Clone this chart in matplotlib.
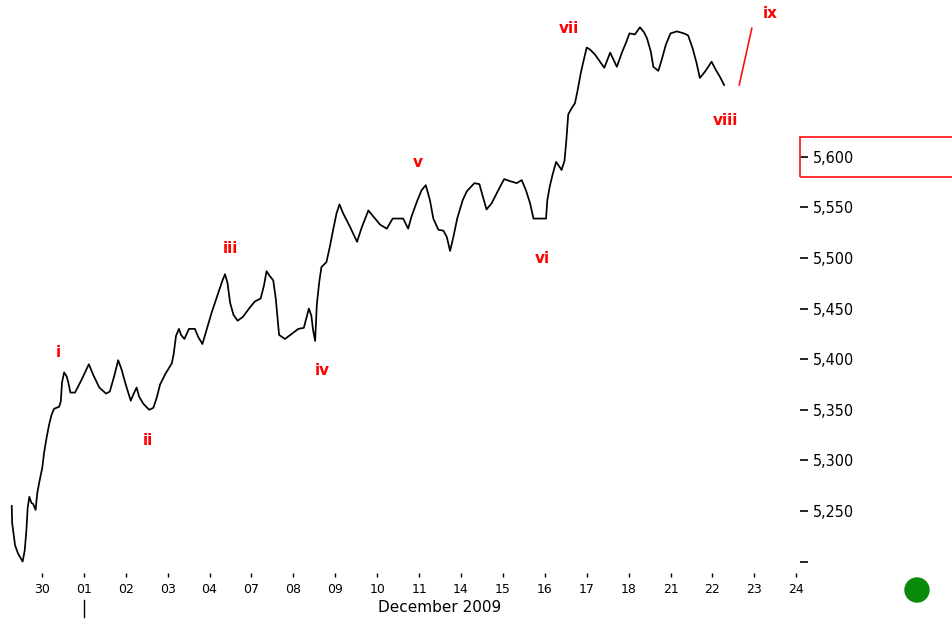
import matplotlib.pyplot as plt
import matplotlib.transforms as mtransforms
from matplotlib.patches import Rectangle, Ellipse

# trading days (index 0 = 30 Nov) and prices
day_labels = ["30", "01", "02", "03", "04", "07", "08", "09", "10", "11",
              "14", "15", "16", "17", "18", "21", "22", "23", "24"]

t = [-0.72, -0.71, -0.64, -0.57, -0.46, -0.41, -0.37, -0.34, -0.30, -0.25,
     -0.21, -0.15, -0.11, -0.05, 0.01, 0.05, 0.11, 0.17, 0.23, 0.29,
     0.41, 0.45, 0.48, 0.53, 0.59, 0.63, 0.68, 0.79, 0.95, 1.12,
     1.22, 1.37, 1.53, 1.62, 1.73, 1.82, 1.90, 2.00, 2.12, 2.18,
     2.26, 2.32, 2.42, 2.56, 2.66, 2.74, 2.82, 2.94, 3.10, 3.14,
     3.20, 3.27, 3.32, 3.40, 3.51, 3.65, 3.73, 3.83, 3.93, 4.05,
     4.18, 4.31, 4.37, 4.43, 4.49, 4.57, 4.67, 4.80, 4.96, 5.08,
     5.22, 5.30, 5.36, 5.44, 5.52, 5.58, 5.66, 5.80, 5.96, 6.12,
     6.25, 6.32, 6.37, 6.43, 6.47, 6.52, 6.56, 6.62, 6.67, 6.79,
     6.87, 6.95, 7.03, 7.10, 7.19, 7.35, 7.52, 7.63, 7.79, 7.91,
     8.07, 8.23, 8.37, 8.62, 8.74, 8.82, 8.96, 9.06, 9.16, 9.26,
     9.34, 9.46, 9.58, 9.66, 9.74, 9.82, 9.91, 10.04, 10.14, 10.32,
     10.44, 10.52, 10.61, 10.73, 10.89, 11.03, 11.17, 11.33, 11.45, 11.55,
     11.65, 11.73, 12.03, 12.06, 12.12, 12.19, 12.27, 12.37, 12.40, 12.47,
     12.51, 12.56, 12.64, 12.72, 12.78, 12.86, 12.92, 13.00, 13.08, 13.20,
     13.32, 13.42, 13.56, 13.72, 13.84, 13.95, 14.02, 14.15, 14.27, 14.37,
     14.44, 14.53, 14.59, 14.71, 14.79, 14.89, 15.00, 15.15, 15.32, 15.42,
     15.53, 15.62, 15.70, 15.82, 15.98, 16.08, 16.18, 16.28]

price = [5255, 5238, 5216, 5208, 5200, 5211, 5231, 5253, 5264, 5258,
         5257, 5251, 5268, 5281, 5293, 5307, 5322, 5335, 5345, 5351,
         5353, 5358, 5377, 5387, 5383, 5377, 5367, 5367, 5380, 5395,
         5385, 5372, 5366, 5368, 5384, 5399, 5390, 5375, 5359, 5365,
         5372, 5363, 5356, 5350, 5352, 5362, 5375, 5385, 5396, 5404,
         5423, 5430, 5424, 5420, 5430, 5430, 5422, 5415, 5429, 5446,
         5462, 5478, 5484, 5475, 5456, 5444, 5438, 5442, 5451, 5457,
         5460, 5473, 5487, 5482, 5478, 5460, 5424, 5420, 5425, 5430,
         5431, 5442, 5450, 5443, 5429, 5418, 5454, 5477, 5491, 5496,
         5511, 5528, 5544, 5553, 5544, 5531, 5516, 5530, 5547, 5541,
         5533, 5529, 5539, 5539, 5529, 5541, 5557, 5567, 5572, 5557,
         5539, 5528, 5527, 5521, 5507, 5521, 5539, 5557, 5566, 5574,
         5573, 5561, 5548, 5554, 5567, 5578, 5576, 5574, 5577, 5567,
         5554, 5539, 5539, 5557, 5571, 5583, 5595, 5589, 5587, 5596,
         5614, 5642, 5648, 5653, 5665, 5683, 5694, 5708, 5706, 5701,
         5694, 5688, 5703, 5689, 5703, 5714, 5722, 5721, 5728, 5723,
         5717, 5704, 5689, 5685, 5696, 5711, 5722, 5724, 5722, 5720,
         5707, 5693, 5678, 5684, 5694, 5686, 5679, 5671]

# projected leg (red)
proj_t = [16.64, 16.94]
proj_price = [5671, 5727]

# wave count labels
wave_names = ["i", "ii", "iii", "iv", "v", "vi", "vii", "viii", "ix"]
wave_t = [0.38, 2.53, 4.49, 6.68, 8.97, 11.93, 12.58, 16.32, 17.37]
wave_price = [5407, 5320, 5509, 5389, 5594, 5500, 5727, 5636, 5742]

y_ticks = [5200, 5250, 5300, 5350, 5400, 5450, 5500, 5550, 5600]

fig = plt.figure(figsize=(9.52, 6.24), dpi=100)
ax = fig.add_axes([0.0, 1 - 573 / 624, 800 / 952, 573 / 624])

ax.plot(t, price, color="black", lw=1.25)
ax.plot(proj_t, proj_price, color="#ff1010", lw=1.2)

for name, x, y in zip(wave_names, wave_t, wave_price):
    ax.text(x, y, name, color="#ff0000", fontsize=11, fontweight="bold",
            ha="center", va="center")

ax.set_xlim(-1.0, 18.09)
ax.set_ylim(5188.7, 5755)

for s in ax.spines.values():
    s.set_visible(False)

ax.set_xticks(range(len(day_labels)))
ax.set_xticklabels(day_labels)
ax.tick_params(axis="x", length=3, width=1, direction="out", pad=4,
               labelsize=9, colors="black")

ax.yaxis.tick_right()
ax.set_yticks(y_ticks)
ax.set_yticklabels([""] + [f"{v:,}" for v in y_ticks[1:]])
ax.tick_params(axis="y", length=6, width=1.2, direction="out", pad=3,
               labelsize=11.5)
for lab in ax.get_yticklabels():
    lab.set_fontstretch("condensed")

blend = mtransforms.blended_transform_factory(ax.transData, ax.transAxes)
ax.text(9.5, -0.061, "December 2009", transform=blend, ha="center",
        va="center", fontsize=11)
ax.plot([1, 1], [-0.047, -0.077], transform=blend, color="black", lw=1,
        clip_on=False)

fig.add_artist(Rectangle((800 / 952, 1 - 177 / 624), 0.2, 40 / 624,
                         transform=fig.transFigure, fill=False,
                         edgecolor="#ff2020", lw=1.3))
fig.add_artist(Ellipse((917 / 952, 1 - 590 / 624), 24 / 952, 24 / 624,
                       transform=fig.transFigure, color="#0a8a0a"))

plt.savefig("out.png", dpi=100)
